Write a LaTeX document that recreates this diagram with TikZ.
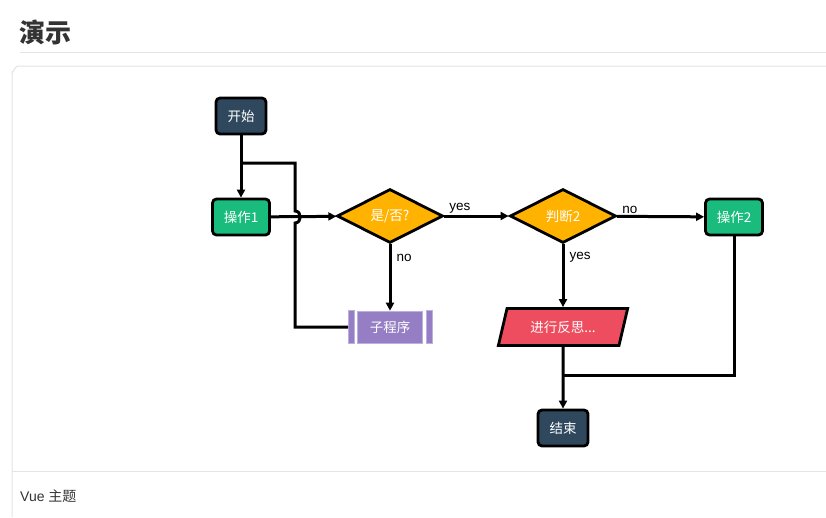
\documentclass[tikz,border=0pt]{standalone}
\usepackage{fontspec}
\setmainfont{Liberation Sans}
\newfontfamily\cjk{Noto Sans CJK SC}
\usetikzlibrary{shapes.geometric,arrows.meta}
\definecolor{navy}{RGB}{47,72,94}
\definecolor{grn}{RGB}{26,188,126}
\definecolor{yel}{RGB}{255,179,0}
\definecolor{redc}{RGB}{238,77,95}
\definecolor{purp}{RGB}{149,126,196}
\definecolor{purpl}{RGB}{190,175,225}
\definecolor{cardline}{RGB}{228,228,228}
\definecolor{titlec}{RGB}{51,51,51}
\tikzset{
  base/.style={draw=black, line width=2.8pt, text=white, inner sep=0pt,
    font=\cjk\fontsize{13.5}{15}\selectfont},
  term/.style={base, rounded corners=4pt, fill=navy, minimum width=50pt, minimum height=36pt},
  opbox/.style={base, rounded corners=4pt, fill=grn, minimum width=57pt, minimum height=36pt},
  decide/.style={base, diamond, fill=yel, minimum width=106pt, minimum height=54pt},
  iobox/.style={base, trapezium, trapezium left angle=68, trapezium right angle=112,
    trapezium stretches=true, fill=redc, minimum width=130pt, minimum height=37pt},
  subbox/.style={inner sep=0pt, fill=purp, draw=purpl, line width=0.6pt, text=white,
    font=\cjk\fontsize{13.5}{15}\selectfont, minimum width=65pt, minimum height=32pt},
  conn/.style={line width=3pt, draw=black},
  arr/.style={conn, -{Triangle[length=8pt,width=8pt]}},
  lbl/.style={font=\fontsize{13.5}{15}\selectfont, text=black, inner sep=0pt}
}
\begin{document}
\begin{tikzpicture}[x=1pt,y=-1pt]
\useasboundingbox (0,0) rectangle (826,517);
\fill[white] (0,0) rectangle (826,517);
% page header
\node[anchor=west, inner sep=0pt, text=titlec, font=\cjk\bfseries\fontsize{26}{28}\selectfont] (title) at (19,32) {演示};
\draw[cardline, line width=1pt] (20,52) -- (826,52);
\draw[cardline, line width=1pt] (826,66) -- (18,66) to[out=180,in=-90] (12,72) -- (12,517);
\draw[cardline, line width=1pt] (12,471) -- (826,471);
\node[anchor=west, inner sep=0pt, text=titlec, font=\fontsize{14}{16}\selectfont] (footer) at (20,496) {Vue {\cjk 主题}};

% nodes
\node[term] (start) at (241,116) {开始};
\node[opbox] (op1) at (241,217) {操作1};
\node[decide] (cond1) at (390,216) {是/否?};
\node[decide] (cond2) at (563,216) {判断2};
\node[opbox] (op2) at (734,217) {操作2};
\node[subbox] (sub) at (390,327) {子程序};
\fill[purp] ([xshift=-9pt]sub.north west) rectangle ([xshift=-3pt]sub.south west);
\draw[purpl, line width=0.6pt] ([xshift=-9pt]sub.north west) rectangle ([xshift=-3pt]sub.south west);
\fill[purp] ([xshift=3pt]sub.north east) rectangle ([xshift=9pt]sub.south east);
\draw[purpl, line width=0.6pt] ([xshift=3pt]sub.north east) rectangle ([xshift=9pt]sub.south east);
\coordinate (subL) at ([xshift=-9pt]sub.west);
\node[iobox] (io) at (563,327) {进行反思...};
\node[term] (end) at (563,428) {结束};

% connectors
\draw[arr] (start) -- (op1);
\draw[arr] (op1) -- (cond1);
\draw[arr] (cond1) -- node[lbl, pos=0.24, above=1pt] (l1) {yes} (cond2);
\draw[arr] (cond1) -- node[lbl, pos=0.2, right=5pt] (l2) {no} (sub);
\draw[arr] (cond2) -- node[lbl, pos=0.15, above=1.5pt] (l3) {no} (op2);
\draw[arr] (cond2) -- node[lbl, pos=0.2, right=5pt] (l4) {yes} (io);
\draw[arr] (io) -- (end);
\coordinate (j1) at (295,327);
\coordinate (j2) at (295,163);
\coordinate (j3) at (241,163);
\draw[conn, line join=miter] (subL) -- (j1) -- (295,223) .. controls (302,223) and (302,211) .. (295,211) -- (j2) -- (j3);
\coordinate (k1) at (734,375);
\coordinate (k2) at (563,375);
\draw[conn, line join=miter] (op2) -- (k1) -- (k2);
\end{tikzpicture}
\end{document}
